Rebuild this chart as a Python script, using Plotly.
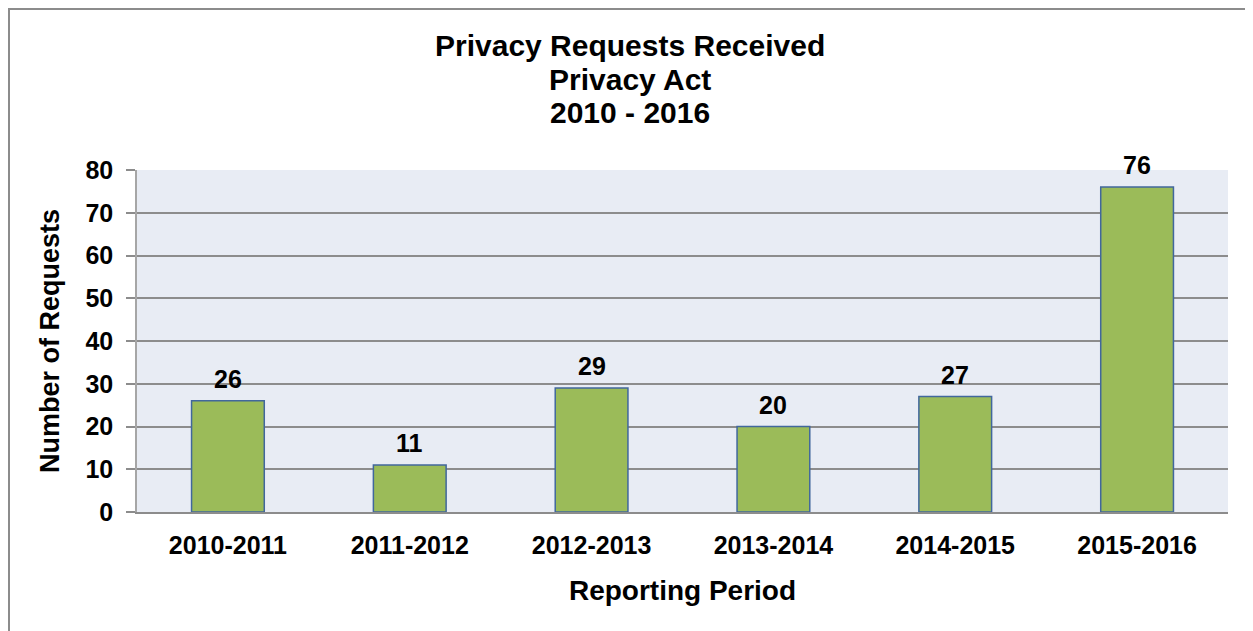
import plotly.graph_objects as go

periods = ["2010-2011", "2011-2012", "2012-2013", "2013-2014", "2014-2015", "2015-2016"]
requests = [26, 11, 29, 20, 27, 76]
y_ticks = [0, 10, 20, 30, 40, 50, 60, 70, 80]
title_lines = ["Privacy Requests Received", "Privacy Act", "2010 - 2016"]

FONT = "Liberation Sans, Arial, Helvetica, sans-serif"

# layout geometry (container pixels)
W, H = 1253, 631
L, R, T, B = 129, 1220, 162, 504
PW, PH = R - L, B - T


def px(x):
    return (x - L) / PW


def py(y):
    return (B - y) / PH


fig = go.Figure()
fig.add_trace(go.Bar(
    x=periods, y=requests,
    marker=dict(color="#9bbb59", line=dict(color="#41679c", width=1.5)),
    width=0.4,
    hoverinfo="x+y",
))

for p, v in zip(periods, requests):
    fig.add_annotation(x=p, y=v, text=f"<b>{v}</b>", showarrow=False,
                       yanchor="bottom", yshift=6,
                       font=dict(family=FONT, size=25, color="black"))

for line, yc in zip(title_lines, [38, 71.5, 105]):
    fig.add_annotation(xref="paper", yref="paper", x=px(622), y=py(yc),
                       xanchor="center", yanchor="middle", showarrow=False,
                       text=f"<b>{line}</b>",
                       font=dict(family=FONT, size=30, color="black"))

fig.update_layout(
    width=W, height=H,
    margin=dict(l=L, r=W - R, t=T, b=H - B),
    paper_bgcolor="white",
    plot_bgcolor="#e8ecf4",
    showlegend=False,
    font=dict(family=FONT, color="black"),
)

fig.update_xaxes(
    showgrid=False,
    showline=True, linecolor="#8c8c8c", linewidth=2,
    ticks="", ticklabelstandoff=10,
    tickfont=dict(family=FONT, size=25, color="black", weight="bold"),
    title=dict(text="<b>Reporting Period</b>", font=dict(family=FONT, size=28, color="black"), standoff=22),
)
fig.update_yaxes(
    range=[0, 80], tickvals=y_ticks,
    showgrid=True, gridcolor="#8c8c8c", gridwidth=2,
    showline=True, linecolor="#a6a6a6", linewidth=1.5,
    ticks="outside", ticklen=9, tickcolor="#8c8c8c", tickwidth=2,
    ticklabelstandoff=8,
    zeroline=False,
    tickfont=dict(family=FONT, size=25, color="black", weight="bold"),
    title=dict(text="<b>Number of Requests</b>", font=dict(family=FONT, size=27, color="black"), standoff=18),
)

fig.add_shape(type="rect", xref="paper", yref="paper",
              x0=px(1), x1=px(W + 10),
              y0=py(H + 10), y1=py(1),
              line=dict(color="#8c8c8c", width=2), fillcolor="rgba(0,0,0,0)", layer="below")

fig.write_html("out.html")
